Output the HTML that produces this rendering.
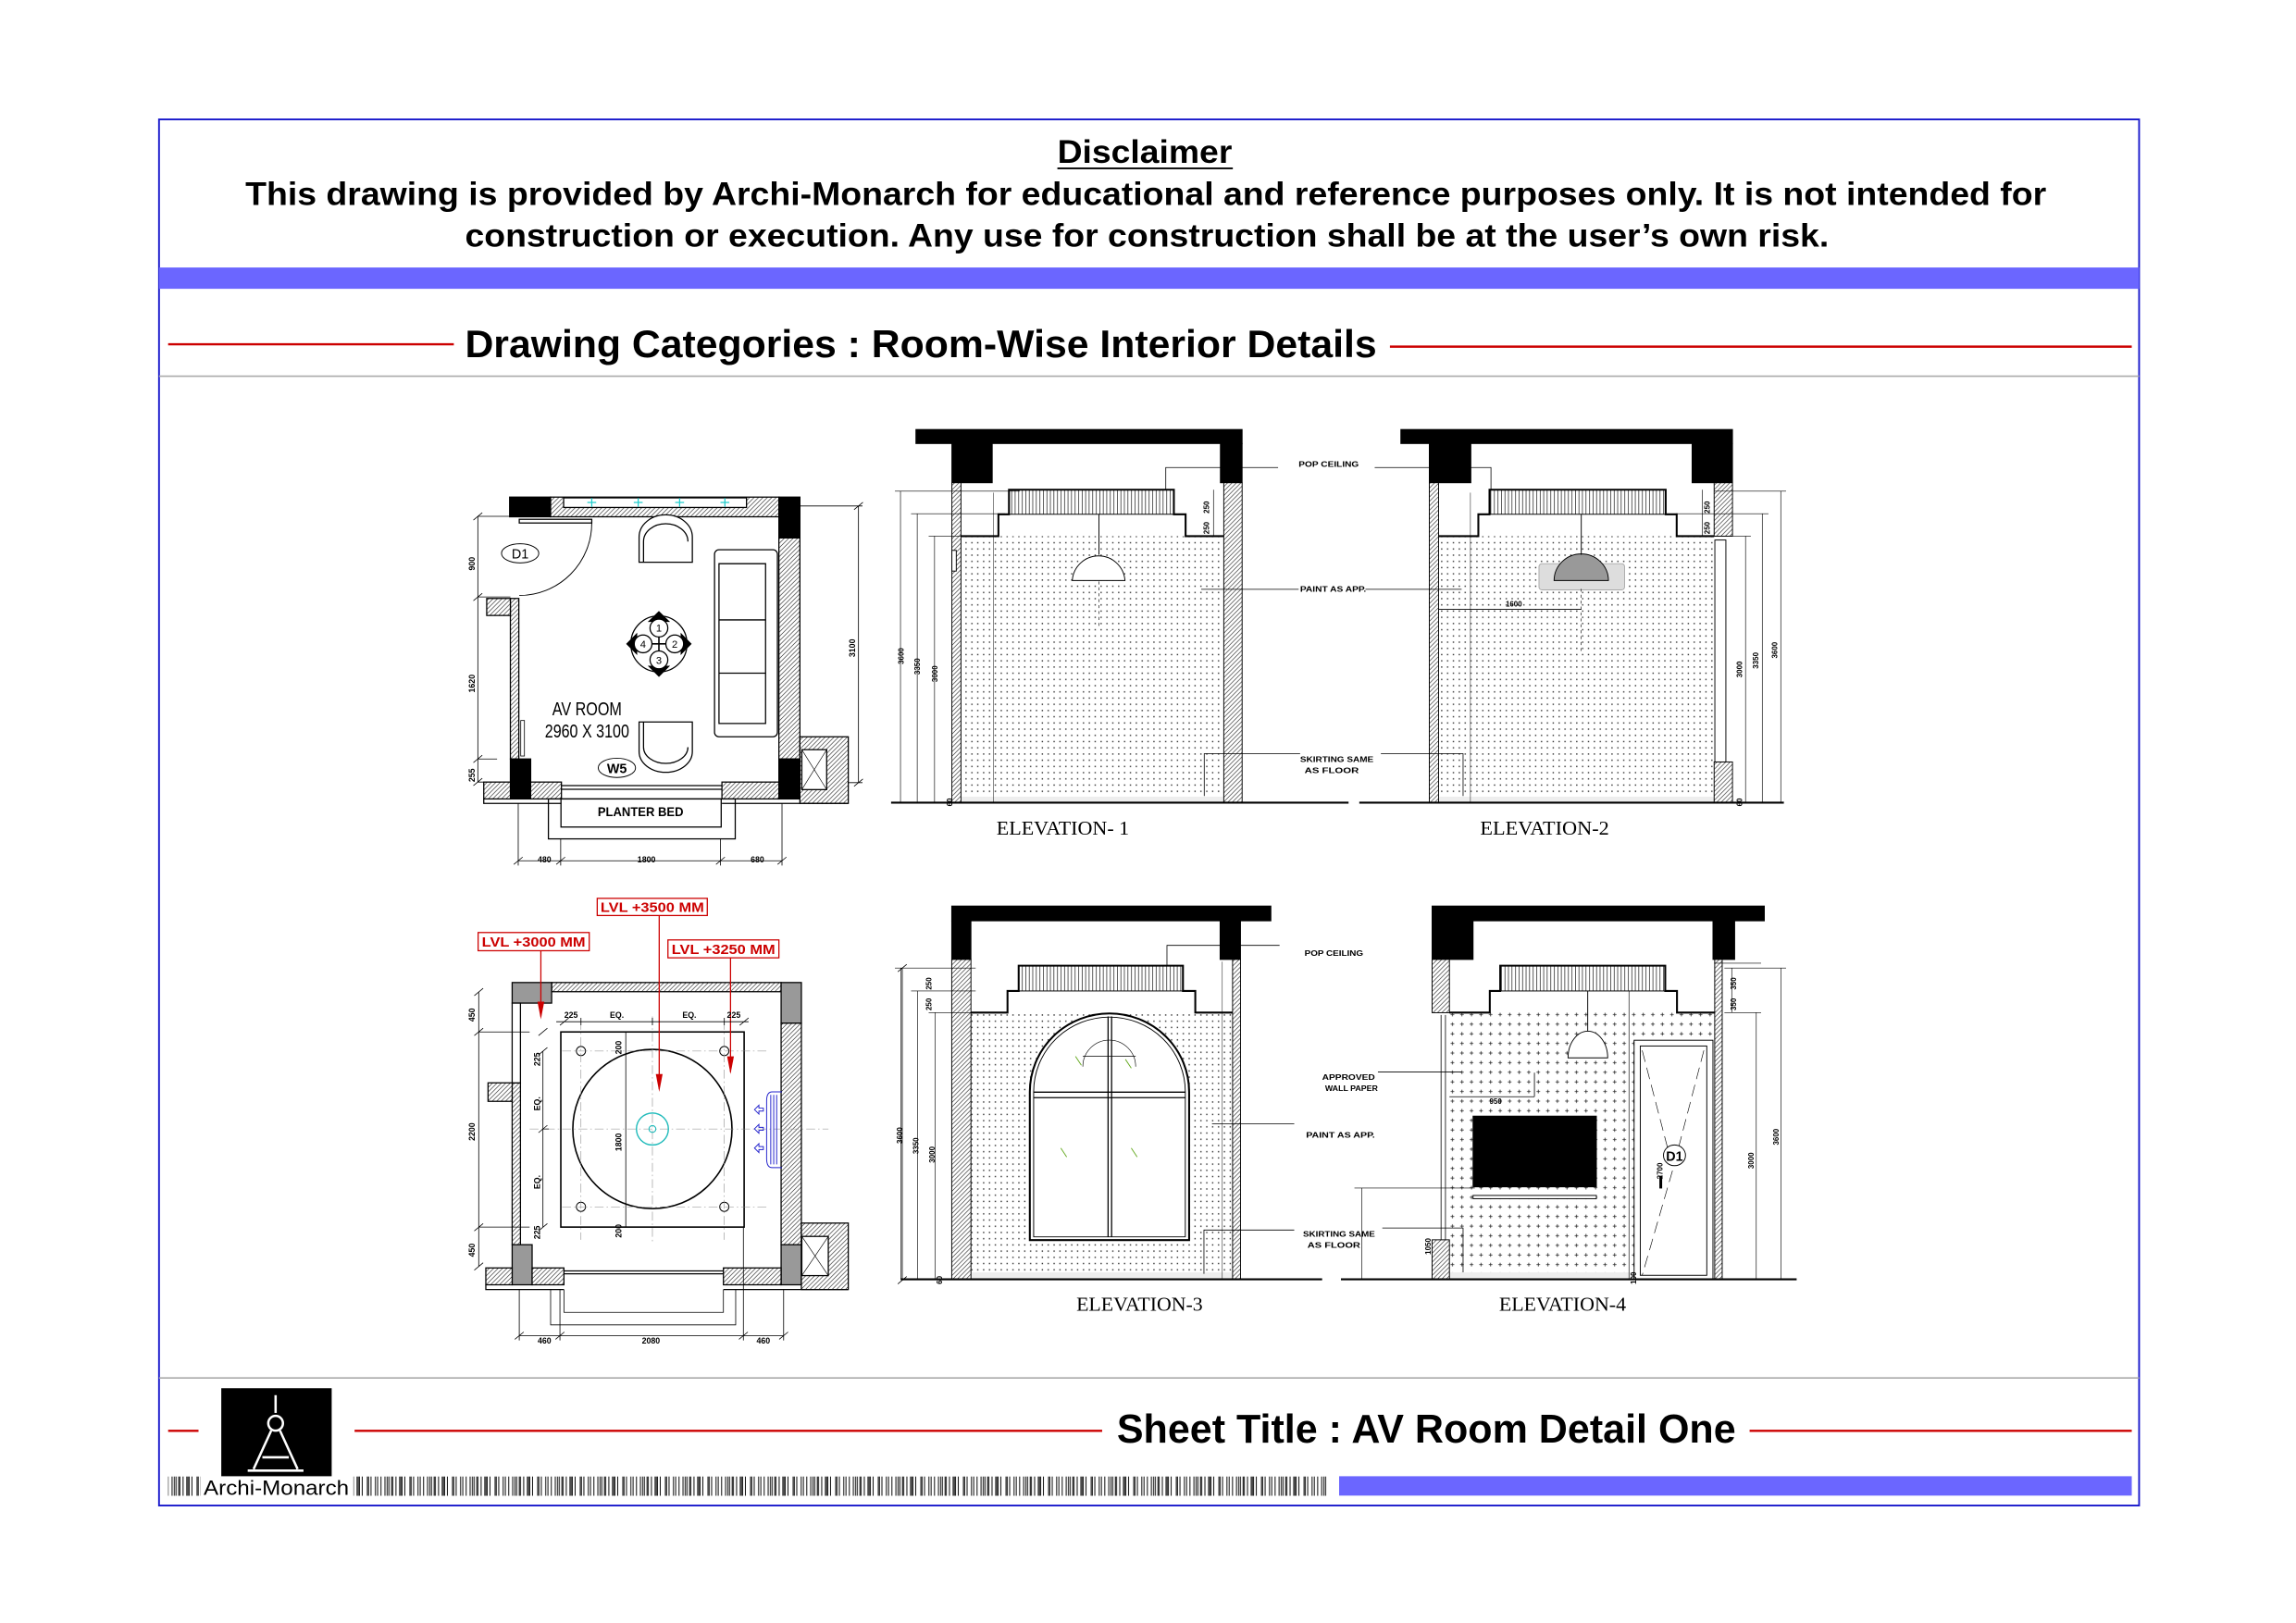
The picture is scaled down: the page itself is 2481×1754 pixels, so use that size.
<!DOCTYPE html>
<html><head><meta charset="utf-8"><style>
html,body{margin:0;padding:0;background:#fff;width:2481px;height:1754px;overflow:hidden}
svg{display:block}
text{font-family:"Liberation Sans",Arial,sans-serif}
.s{font-family:"Liberation Serif",serif}
</style></head><body>
<svg width="2481" height="1754" viewBox="0 0 1552 1097" preserveAspectRatio="none" xmlns="http://www.w3.org/2000/svg">
<defs>
<pattern id="h" width="3" height="3" patternUnits="userSpaceOnUse"><rect width="3" height="3" fill="#fff"/><path d="M-1,1 L1,-1 M0,3 L3,0 M2,4 L4,2" stroke="#000" stroke-width="0.35"/></pattern>
<pattern id="d" width="4" height="4.2" patternUnits="userSpaceOnUse"><rect width="4" height="4.2" fill="#fff"/><rect x="1" y="1" width="0.9" height="0.9" fill="#333"/></pattern>
<pattern id="c" width="6.5" height="6.5" patternUnits="userSpaceOnUse"><rect width="6.5" height="6.5" fill="#fff"/><path d="M3.25,2 V4.5 M2,3.25 H4.5" stroke="#222" stroke-width="0.5"/></pattern>
<pattern id="fl" width="2.4" height="20" patternUnits="userSpaceOnUse"><rect width="2.4" height="20" fill="#fff"/><path d="M0.5,0 V20" stroke="#000" stroke-width="0.4"/></pattern>
<pattern id="bc" width="29" height="20" patternUnits="userSpaceOnUse"><rect width="29" height="20" fill="#fff"/><path d="M0.5,0V20M2,0V20M3.2,0V20M5,0V20M5.8,0V20M8,0V20M10.5,0V20M11.3,0V20M12.1,0V20M14,0V20M17.5,0V20M18.3,0V20M20,0V20M23,0V20M24.5,0V20M26.8,0V20" stroke="#000" stroke-width="0.6"/></pattern>
</defs>

<g transform="matrix(0.9924 0 0 1 0.713 0)">
<!-- frame -->
<rect x="107.6" y="80.7" width="1348.7" height="936.9" fill="none" stroke="#1a1acc" stroke-width="1.2"/>
<rect x="107.6" y="180.8" width="1348.7" height="14.4" fill="#6b66ff"/>
<text x="779" y="110" font-size="22" font-weight="bold" text-anchor="middle" textLength="119" lengthAdjust="spacingAndGlyphs">Disclaimer</text>
<line x1="719.5" y1="113.8" x2="839" y2="113.8" stroke="#000" stroke-width="1.2"/>
<text x="166.4" y="138.5" font-size="22" font-weight="bold" textLength="1226.7" lengthAdjust="spacingAndGlyphs">This drawing is provided by Archi-Monarch for educational and reference purposes only. It is not intended for</text>
<text x="316" y="166.8" font-size="22" font-weight="bold" textLength="929" lengthAdjust="spacingAndGlyphs">construction or execution. Any use for construction shall be at the user’s own risk.</text>

<line x1="113.8" y1="232.7" x2="308.4" y2="232.7" stroke="#c00" stroke-width="1.5"/>
<line x1="946" y1="234.3" x2="1451.3" y2="234.3" stroke="#c00" stroke-width="1.5"/>
<text x="316" y="241.5" font-size="26" font-weight="bold" textLength="621" lengthAdjust="spacingAndGlyphs">Drawing Categories : Room-Wise Interior Details</text>
<line x1="107.6" y1="254.3" x2="1456.3" y2="254.3" stroke="#aaa" stroke-width="1"/>

<line x1="107.6" y1="931.4" x2="1456.3" y2="931.4" stroke="#aaa" stroke-width="1"/>
<rect x="150" y="938.3" width="75.2" height="59.5" fill="#000"/>
<g stroke="#fff" stroke-width="1.6" fill="none"><line x1="187" y1="943" x2="187" y2="955"/><circle cx="187" cy="962" r="5"/><path d="M184,967 L172,993 M190,967 L202,993 M178,985 H196 M168,994 H206"/></g>
<line x1="113.8" y1="967.1" x2="134.5" y2="967.1" stroke="#c00" stroke-width="1.5"/>
<line x1="240.8" y1="967.1" x2="750" y2="967.1" stroke="#c00" stroke-width="1.5"/>
<line x1="1191" y1="967.1" x2="1451.3" y2="967.1" stroke="#c00" stroke-width="1.5"/>
<text x="760" y="975.2" font-size="27" font-weight="bold" textLength="421.6" lengthAdjust="spacingAndGlyphs">Sheet Title : AV Room Detail One</text>
<rect x="113.8" y="998" width="22" height="13" fill="url(#bc)"/>
<rect x="240" y="998" width="663" height="13" fill="url(#bc)"/>
<text x="138" y="1010.5" font-size="14" textLength="99" lengthAdjust="spacingAndGlyphs">Archi-Monarch</text>
<rect x="911.4" y="997.8" width="539.9" height="13.1" fill="#6b66ff"/>
</g>

<!-- ========== FLOOR PLAN ========== -->
<g stroke="#000" stroke-width="0.8">
<rect x="372" y="336" width="154.5" height="13.3" fill="url(#h)"/>
<rect x="381" y="336.5" width="123.6" height="6.5" fill="#fff"/>
<rect x="344.5" y="336" width="27.7" height="13.3" fill="#000"/>
<rect x="526.5" y="336" width="14.2" height="27.6" fill="#000"/>
<rect x="526.5" y="363.6" width="14.2" height="149.4" fill="url(#h)"/>
<rect x="526.5" y="513" width="14.2" height="27" fill="#000"/>
<rect x="345" y="404.5" width="5.7" height="108.5" fill="url(#h)"/>
<rect x="329" y="404.5" width="16" height="11.5" fill="url(#h)"/>
<rect x="345" y="513" width="13.7" height="27" fill="#000"/>
<rect x="327" y="528.6" width="18" height="11.4" fill="url(#h)"/>
<rect x="358.7" y="528.6" width="20.8" height="11.4" fill="url(#h)"/>
<rect x="488" y="528.6" width="38.5" height="11.4" fill="url(#h)"/>
<rect x="540.7" y="498" width="32.7" height="45" fill="url(#h)"/>
<rect x="542" y="506.7" width="16.8" height="27" fill="#fff"/>
<path d="M542,506.7 L558.8,533.7 M558.8,506.7 L542,533.7" stroke-width="0.4"/>
<path d="M327,540 V543 H379.5 M488,543 H573.4" fill="none"/>
<path d="M379.5,531 H488 M379.5,533.5 H488" fill="none"/>
<rect x="370.7" y="540" width="126.3" height="27" fill="none"/>
<rect x="379.2" y="540" width="108.3" height="19" fill="none"/>
<rect x="352" y="487" width="2.5" height="24" fill="none" stroke-width="0.5"/>
<rect x="351" y="351" width="49" height="2.5" fill="#fff"/>
<path d="M400,353.5 A49,49 0 0 1 351,402.5" fill="none" stroke-width="0.6"/>
<path d="M432,380 V363 A18,15 0 0 1 468,363 V380 Z M435,380 V366 A15,12 0 0 1 465,366" fill="#fff"/>
<path d="M432,488 V508 A18,14 0 0 0 468,508 V488 Z M435,488 V505 A15,11 0 0 0 465,505" fill="#fff"/>
<rect x="483" y="371.6" width="42.5" height="126.4" rx="3" fill="#fff"/>
<path d="M486,381 H517.5 V489 H486 Z M486,419 H517.5 M486,455 H517.5" fill="none"/>
<circle cx="445.4" cy="435.2" r="19" fill="none"/>
<path d="M445.4,413.5 L452,420 H438.8 Z M467,435.2 L460.5,441.8 V428.6 Z M445.4,457 L438.8,450.4 H452 Z M423.8,435.2 L430.3,428.6 V441.8 Z" fill="#000"/>
<path d="M445.4,424.5 V446 M434.7,435.2 H456.1" fill="none" stroke-width="1"/>
<g fill="#fff"><circle cx="445.4" cy="424.5" r="6"/><circle cx="456.1" cy="435.2" r="6"/><circle cx="445.4" cy="446" r="6"/><circle cx="434.7" cy="435.2" r="6"/></g>
</g>
<g font-size="7" text-anchor="middle"><text x="445.4" y="427">1</text><text x="456.1" y="437.8">2</text><text x="445.4" y="448.6">3</text><text x="434.7" y="437.8">4</text></g>
<g stroke="#2cc" stroke-width="0.8"><path d="M397,339.6h6M400,336.6v6M428.4,339.6h6M431.4,336.6v6M456.4,339.6h6M459.4,336.6v6M487,339.6h6M490,336.6v6"/></g>
<ellipse cx="351.6" cy="374" rx="12.6" ry="6.5" fill="none" stroke="#000" stroke-width="0.6"/>
<text x="351.6" y="377.5" font-size="9" text-anchor="middle">D1</text>
<ellipse cx="417" cy="519" rx="12.6" ry="6.5" fill="none" stroke="#000" stroke-width="0.6"/>
<text x="417" y="522.5" font-size="9" font-weight="bold" text-anchor="middle">W5</text>
<text x="396.8" y="483.5" font-size="13" text-anchor="middle" textLength="47" lengthAdjust="spacingAndGlyphs">AV ROOM</text>
<text x="396.8" y="498.5" font-size="13" text-anchor="middle" textLength="57" lengthAdjust="spacingAndGlyphs">2960 X 3100</text>
<text x="433" y="551.5" font-size="8.5" font-weight="bold" text-anchor="middle" textLength="58" lengthAdjust="spacingAndGlyphs">PLANTER BED</text>
<g stroke="#000" stroke-width="0.5" fill="none">
<path d="M323,349 V528.6 M320,351.5l6,-5 M320,406l6,-5 M320,515.5l6,-5 M320,531l6,-5 M323,349H345 M323,403.5H345 M323,513H336 M323,528.6H327"/>
<path d="M580.3,342 V529 M540.7,342 H583 M577.3,344.5l6,-5 M577.3,531.5l6,-5 M573.4,529 H583"/>
<path d="M350.3,581.8 H528.6 M350.3,543 V585 M379,567 V585 M487,567 V585 M528.6,543 V585 M347.3,584.3l6,-5 M376,584.3l6,-5 M484,584.3l6,-5 M525.6,584.3l6,-5"/>
</g>
<g font-size="5.5" font-weight="bold" text-anchor="middle">
<text transform="translate(321,381) rotate(-90)">900</text>
<text transform="translate(321,462) rotate(-90)">1620</text>
<text transform="translate(321,524) rotate(-90)">255</text>
<text transform="translate(578,438) rotate(-90)">3100</text>
<text x="368" y="583">480</text><text x="437" y="583">1800</text><text x="512" y="583">680</text>
</g>

<!-- ========== CEILING PLAN ========== -->
<g stroke="#000" stroke-width="0.8">
<rect x="372.9" y="664.1" width="155.1" height="6.2" fill="url(#h)"/>
<rect x="346.2" y="664.1" width="26.7" height="13.9" fill="#999"/>
<rect x="528" y="664.1" width="13.7" height="27.5" fill="#999"/>
<rect x="528" y="691.6" width="13.7" height="149.7" fill="url(#h)"/>
<rect x="528" y="841.3" width="13.7" height="27.1" fill="#999"/>
<rect x="346.2" y="678" width="5.6" height="54" fill="#fff"/>
<rect x="346.2" y="732" width="5.6" height="109.3" fill="url(#h)"/>
<rect x="329.9" y="731.9" width="16.3" height="12.5" fill="url(#h)"/>
<rect x="346.2" y="841.3" width="13.5" height="27.1" fill="#999"/>
<rect x="328.4" y="857" width="17.8" height="11.4" fill="url(#h)"/>
<rect x="359.7" y="857" width="21.5" height="11.4" fill="url(#h)"/>
<rect x="489" y="857" width="39" height="11.4" fill="url(#h)"/>
<rect x="541.7" y="826.7" width="31.7" height="44.9" fill="url(#h)"/>
<rect x="542" y="835.7" width="17.9" height="26.5" fill="#fff"/>
<path d="M542,835.7 L559.9,862.2 M559.9,835.7 L542,862.2" stroke-width="0.4"/>
<path d="M328.4,868.4 V871.6 H381.2 M489,871.6 H573.4 M381.2,859 H489 M381.2,861 H489" fill="none"/>
<path d="M372.2,871.6 V895.5 H497.3 V871.6 M381.2,871.6 V887 H489 V871.6" fill="none" stroke-width="0.5"/>
<rect x="379.1" y="697.5" width="123.9" height="131.9" fill="none" stroke-width="1"/>
<circle cx="441" cy="763.1" r="53.8" fill="none" stroke-width="1"/>
<g fill="none" stroke-width="0.6"><circle cx="392.7" cy="710.4" r="3.1"/><circle cx="489.6" cy="710.4" r="3.1"/><circle cx="392.7" cy="815.7" r="3.1"/><circle cx="489.6" cy="815.7" r="3.1"/></g>
</g>
<g stroke="#888" stroke-width="0.35" stroke-dasharray="6,2,1,2" fill="none">
<path d="M358,763.1 H560 M441,687 V840 M380,710.4 H520 M380,815.7 H520 M392.7,690 V838 M489.6,690 V838"/>
</g>
<circle cx="441" cy="763.1" r="10.8" fill="none" stroke="#2bb" stroke-width="0.9"/>
<circle cx="441" cy="763.1" r="2.3" fill="none" stroke="#2bb" stroke-width="0.7"/>
<g stroke="#22c" stroke-width="0.6" fill="none"><path d="M528.6,738 H522 Q518.2,738 518.2,744 V783 Q518.2,789.2 522,789.2 H528.6 M521,740 V787 M523,740 V787 M525,740 V787"/>
<path d="M510,750 l3,-3 v2 h3 v2 h-3 v2 Z M510,763 l3,-3 v2 h3 v2 h-3 v2 Z M510,776 l3,-3 v2 h3 v2 h-3 v2 Z"/></g>
<g fill="none" stroke="#c00" stroke-width="0.8">
<rect x="403.7" y="607.2" width="74.4" height="11.6" fill="#fff"/>
<rect x="323.2" y="630.3" width="75.1" height="12.3" fill="#fff"/>
<rect x="451.5" y="635.3" width="75" height="12.1" fill="#fff"/>
<path d="M365.6,642.6 V687 M445.6,618.8 V736 M493.8,647.4 V724.6"/>
</g>
<g fill="#c00"><polygon points="363.3,677 367.9,677 365.6,689"/><polygon points="443.3,726 447.9,726 445.6,738"/><polygon points="491.5,714 496.1,714 493.8,726"/></g>
<g fill="#c00" font-size="9" font-weight="bold" text-anchor="middle">
<text x="440.9" y="616.3" textLength="70" lengthAdjust="spacingAndGlyphs">LVL +3500 MM</text>
<text x="360.7" y="639.8" textLength="70" lengthAdjust="spacingAndGlyphs">LVL +3000 MM</text>
<text x="489" y="644.7" textLength="70" lengthAdjust="spacingAndGlyphs">LVL +3250 MM</text>
</g>
<g stroke="#000" stroke-width="0.5" fill="none">
<path d="M323.6,670.3 V856 M320.6,673l6,-5 M320.6,700l6,-5 M320.6,832l6,-5 M320.6,858.5l6,-5 M323.6,697.5 H358 M323.6,829.4 H358"/>
<path d="M367,710.4 V829.4 M367,763.1 h4 M364,713l6,-5 M364,765.6l6,-5 M364,832l6,-5 M364,700l6,-5"/>
<path d="M376,690.6 H506 M378.5,693l6,-5 M392.7,693l0,-5 M441,693l0,-5 M489.6,693l0,-5 M500,693l6,-5"/>
<path d="M423,697.5 V829.4"/>
<path d="M351,902.8 H529.7 M351,871.6 V906 M378.5,871.6 V906 M502.5,829.4 V906 M529.7,871.6 V906 M348,905.3l6,-5 M375.5,905.3l6,-5 M499.5,905.3l6,-5 M526.7,905.3l6,-5"/>
<path d="M609.9,654.3 V865.3 M606.9,656.8l6,-5 M606.9,867.8l6,-5"/>
</g>
<g font-size="5.5" font-weight="bold" text-anchor="middle">
<text transform="translate(321,686) rotate(-90)">450</text>
<text transform="translate(321,765) rotate(-90)">2200</text>
<text transform="translate(321,845) rotate(-90)">450</text>
<text transform="translate(365,746) rotate(-90)">EQ.</text>
<text transform="translate(365,799) rotate(-90)">EQ.</text>
<text transform="translate(365,716) rotate(-90)">225</text>
<text transform="translate(365,833) rotate(-90)">225</text>
<text transform="translate(420,708) rotate(-90)">200</text>
<text transform="translate(420,772) rotate(-90)">1800</text>
<text transform="translate(420,832) rotate(-90)">200</text>
<text x="386" y="688">225</text><text x="417" y="688">EQ.</text><text x="466" y="688">EQ.</text><text x="496" y="688">225</text>
<text x="368" y="908">460</text><text x="440" y="908">2080</text><text x="516" y="908">460</text>
</g>

<g transform="matrix(0.9924 0 0 1 4.52 0)">
<!-- ========== ELEVATION 1 ========== -->
<g stroke="#000" stroke-width="0.6">
<rect x="650" y="362.4" width="179" height="180.1" fill="url(#d)" stroke="none"/>
<rect x="650" y="538.5" width="179" height="4" fill="#eee" stroke="none"/>
<rect x="619.3" y="290.3" width="222.2" height="9.5" fill="#000"/>
<rect x="643.8" y="299.8" width="27.5" height="26.5" fill="#000"/>
<rect x="826.7" y="299.8" width="14.8" height="26.5" fill="#000"/>
<rect x="643.8" y="326.3" width="6.2" height="216.2" fill="url(#h)"/>
<rect x="829" y="326.3" width="12.5" height="216.2" fill="url(#h)"/>
<rect x="682.7" y="331" width="112.3" height="16.6" fill="url(#fl)"/>
<path d="M650,362.4 H675.5 V347.6 H682.7 V331 H795 V347.6 H803 V362.4 H829" fill="none" stroke-width="1.3"/>
<path d="M725.8,392.4 A18,18 0 0 1 761.7,392.4 Z" fill="#fff"/>
<path d="M744,347.6 V375" fill="none"/>
<path d="M744,393 V425" fill="none" stroke-dasharray="2,2" stroke-width="0.4"/>
<path d="M672,333 V542" stroke-width="0.3"/>
<rect x="643.8" y="372" width="3" height="14" fill="#fff"/>
<path d="M602.4,542.5 H914" stroke-width="1.3"/>
<path d="M789.5,331 V316 H866 M813.6,398.3 H880 M815.7,538 V509.4 H881" fill="none" stroke-width="0.5"/>
<path d="M608.8,332 V542.5 M620.2,347.2 V542.5 M632,362.4 V542.5 M605,332 H690 M616,347.2 H680 M628,362.4 H650 M822,331 V362.4" fill="none" stroke-width="0.4"/>
</g>
<g font-size="5" font-weight="bold">
<text x="880" y="315.5" textLength="41" lengthAdjust="spacingAndGlyphs">POP CEILING</text>
<text x="881" y="400" textLength="45" lengthAdjust="spacingAndGlyphs">PAINT AS APP.</text>
<text x="881" y="515" textLength="50" lengthAdjust="spacingAndGlyphs">SKIRTING SAME</text>
<text x="884" y="522.5" textLength="37" lengthAdjust="spacingAndGlyphs">AS FLOOR</text>
<text transform="translate(819,347) rotate(-90)">250</text><text transform="translate(819,361) rotate(-90)">250</text>
<text transform="translate(644,545) rotate(-90)">60</text>
<text transform="translate(611,449) rotate(-90)">3600</text>
<text transform="translate(622,456) rotate(-90)">3350</text>
<text transform="translate(634,461) rotate(-90)">3000</text>
</g>
<text class="s" x="674.2" y="564" font-size="13" textLength="90.4" lengthAdjust="spacingAndGlyphs">ELEVATION- 1</text>

<!-- ========== ELEVATION 2 ========== -->
<g stroke="#000" stroke-width="0.6">
<rect x="975.3" y="362.4" width="187.7" height="180.1" fill="url(#d)" stroke="none"/>
<rect x="975.3" y="538.5" width="187.7" height="4" fill="#eee" stroke="none"/>
<rect x="949.6" y="290.3" width="225.9" height="9.5" fill="#000"/>
<rect x="969" y="299.8" width="28.3" height="26.5" fill="#000"/>
<rect x="1148" y="299.8" width="27.5" height="26.5" fill="#000"/>
<rect x="969" y="326.3" width="6.3" height="216.2" fill="url(#h)"/>
<rect x="1163" y="326.3" width="12.5" height="36.1" fill="url(#h)"/>
<rect x="1163" y="515" width="12.5" height="27.5" fill="url(#h)"/>
<rect x="1163.5" y="365" width="7.5" height="150" fill="#fff"/>
<rect x="1010" y="331" width="120" height="16.6" fill="url(#fl)"/>
<path d="M975.3,362.4 H1002.4 V347.6 H1010 V331 H1130 V347.6 H1137.5 V362.4 H1163" fill="none" stroke-width="1.3"/>
<rect x="1043.7" y="381" width="58.3" height="17.7" rx="2" fill="#ddd" stroke="#aaa"/>
<path d="M1054,392.4 A18.5,18 0 0 1 1091,392.4 Z" fill="#999"/>
<path d="M1072.5,347.6 V375" fill="none"/>
<path d="M1072.5,398 V440" fill="none" stroke-dasharray="2,2" stroke-width="0.4"/>
<path d="M975.3,411.8 H1072.5" stroke-width="0.5"/>
<path d="M997,333 V542" stroke-width="0.3"/>
<path d="M921.3,542.5 H1210.5" stroke-width="1.3"/>
<path d="M931.8,316 H1011 V331 M925.5,398.3 H991 M936,509.4 H992 V538" fill="none" stroke-width="0.5"/>
<path d="M1184.4,362.4 V542.5 M1195.8,347.2 V542.5 M1208.4,332 V542.5 M1163,332 H1212 M1137,347.2 H1200 M1163,362.4 H1188 M1155,331 V362.4" fill="none" stroke-width="0.4"/>
</g>
<g font-size="5" font-weight="bold">
<text x="1021" y="410" >1600</text>
<text transform="translate(1160,347) rotate(-90)">250</text><text transform="translate(1160,361) rotate(-90)">250</text>
<text transform="translate(1182,458) rotate(-90)">3000</text><text transform="translate(1193,452) rotate(-90)">3350</text><text transform="translate(1206,445) rotate(-90)">3600</text>
<text transform="translate(1182,545) rotate(-90)">60</text>
</g>
<text class="s" x="1003.6" y="564" font-size="13" textLength="87.9" lengthAdjust="spacingAndGlyphs">ELEVATION-2</text>

<!-- ========== ELEVATION 3 ========== -->
<g stroke="#000" stroke-width="0.6">
<rect x="656.8" y="684.4" width="178.2" height="180.3" fill="url(#d)" stroke="none"/>
<rect x="656.8" y="860" width="178.2" height="4.7" fill="#eee" stroke="none"/>
<rect x="643.7" y="612.4" width="217.4" height="10" fill="#000"/>
<rect x="643.7" y="622.4" width="13.1" height="26.1" fill="#000"/>
<rect x="826.5" y="622.4" width="13.9" height="26.1" fill="#000"/>
<rect x="643.7" y="648.5" width="13.1" height="216.2" fill="url(#h)"/>
<rect x="835" y="648.5" width="5.4" height="216.2" fill="url(#h)"/>
<rect x="689.3" y="652.7" width="111.9" height="17.1" fill="url(#fl)"/>
<path d="M656.8,684.4 H681.7 V669.8 H689.3 V652.7 H801.2 V669.8 H809.6 V684.4 H835" fill="none" stroke-width="1.3"/>
<path d="M696.9,838.2 V738 A54.25,53 0 0 1 805.4,738 V838.2 Z" fill="#fff" stroke-width="1.3"/>
<path d="M699.5,836 V738 A51.6,50.5 0 0 1 802.8,738 V836 Z" fill="none" stroke-width="0.6"/>
<path d="M699.5,738.2 H802.8 M699.5,741.9 H802.8 M750.2,687 V836 M752.6,687 V836" fill="none" stroke-width="0.8"/>
<path d="M733,721 A18,18 0 0 1 769,721 M733,714 H769" fill="none" stroke-width="0.4"/>
<g stroke="#6a2" stroke-width="0.6"><path d="M728,714 l4,6 M762,716 l4,6 M718,776 l4,6 M766,776 l4,6"/></g>
<path d="M828,650 V864" stroke-width="0.3"/>
<path d="M609,864.7 H896" stroke-width="1.3"/>
<path d="M790.3,653 V639 H867 M821,759.6 H877 M815.5,861 V831.4 H877" fill="none" stroke-width="0.5"/>
<path d="M609,654.3 V864.7 M620.5,669.8 V864.7 M632.3,684.4 V864.7 M605,654.3 H660 M616,669.8 H660 M628,684.4 H660" fill="none" stroke-width="0.4"/>
</g>
<g font-size="5" font-weight="bold">
<text x="884" y="646" textLength="40" lengthAdjust="spacingAndGlyphs">POP CEILING</text>
<text x="885" y="769" textLength="47" lengthAdjust="spacingAndGlyphs">PAINT AS APP.</text>
<text x="883" y="836" textLength="49" lengthAdjust="spacingAndGlyphs">SKIRTING SAME</text>
<text x="886" y="843.5" textLength="36" lengthAdjust="spacingAndGlyphs">AS FLOOR</text>
<text transform="translate(610,773) rotate(-90)">3600</text><text transform="translate(621,780) rotate(-90)">3350</text><text transform="translate(632,786) rotate(-90)">3000</text>
<text transform="translate(630,669) rotate(-90)">250</text><text transform="translate(630,683) rotate(-90)">250</text>
<text transform="translate(637,868) rotate(-90)">60</text>
</g>
<text class="s" x="728.6" y="886" font-size="13" textLength="86.1" lengthAdjust="spacingAndGlyphs">ELEVATION-3</text>

<!-- ========== ELEVATION 4 ========== -->
<g stroke="#000" stroke-width="0.6">
<rect x="982.7" y="684.4" width="180.7" height="180.3" fill="url(#c)" stroke="none"/>
<rect x="982.7" y="860" width="125" height="4.7" fill="#eee" stroke="none"/>
<rect x="970.9" y="612.4" width="226.3" height="10" fill="#000"/>
<rect x="970.9" y="622.4" width="27.9" height="26.1" fill="#000"/>
<rect x="1162.2" y="622.4" width="14.8" height="26.1" fill="#000"/>
<rect x="970.9" y="648.5" width="11.8" height="36" fill="url(#h)"/>
<rect x="970.9" y="838" width="11.8" height="26.7" fill="url(#h)"/>
<rect x="1163.4" y="648.5" width="5.1" height="216.2" fill="url(#h)"/>
<rect x="1017.3" y="652.7" width="112.4" height="17.1" fill="url(#fl)"/>
<path d="M982.7,684.4 H1010.2 V669.8 H1017.3 V652.7 H1129.7 V669.8 H1137.7 V684.4 H1163.4" fill="none" stroke-width="1.3"/>
<path d="M1063.5,715 A13.5,18 0 0 1 1090.5,715 Z" fill="#fff"/>
<path d="M1076.9,670 V697" fill="none"/>
<rect x="998.8" y="754.4" width="84" height="47.8" fill="#000"/>
<rect x="998.8" y="808" width="84" height="2.2" fill="#fff"/>
<rect x="1108.5" y="703.1" width="53.7" height="161.6" fill="#fff"/>
<rect x="1112.7" y="707" width="45.3" height="155" fill="none"/>
<path d="M1114,710 L1135,790 L1114,862 M1156,710 L1135,790" fill="none" stroke-width="0.4" stroke-dasharray="8,4"/>
<rect x="1126" y="795" width="1.3" height="8" fill="#000"/>
<ellipse cx="1136" cy="780.9" rx="7.5" ry="7" fill="#fff"/>
<path d="M982.7,741.3 H1040.6 M1040.6,725 V741.3" fill="none" stroke-width="0.5"/>
<path d="M977,686 V838 M980,686 V838" fill="none" stroke-width="0.5"/>
<path d="M908.8,864.7 H1219.2" stroke-width="1.3"/>
<path d="M934,724.6 H991 M937,830 H992 V860" fill="none" stroke-width="0.5"/>
<path d="M1191.7,684.4 V864.7 M1208.6,654.3 V864.7 M1170,654.3 H1212 M1170,684.4 H1195 M1175,654.3 V684.4 M1105,670 V864.7 M923,803 V864.7 M918,803 H1000" fill="none" stroke-width="0.4"/>
</g>
<text x="1136" y="784.5" font-size="9" font-weight="bold" text-anchor="middle">D1</text>
<g font-size="5" font-weight="bold">
<text x="896" y="730" textLength="36" lengthAdjust="spacingAndGlyphs">APPROVED</text>
<text x="898" y="737.5" textLength="36" lengthAdjust="spacingAndGlyphs">WALL PAPER</text>
<text x="1010" y="746">950</text>
<text transform="translate(1128,797) rotate(-90)">2700</text>
<text transform="translate(1190,790) rotate(-90)">3000</text><text transform="translate(1207,774) rotate(-90)">3600</text>
<text transform="translate(1178,669) rotate(-90)">350</text><text transform="translate(1178,683) rotate(-90)">350</text>
<text transform="translate(970,848) rotate(-90)">1050</text>
<text transform="translate(1110,868) rotate(-90)">100</text>
</g>
<text class="s" x="1016.5" y="886" font-size="13" textLength="86.5" lengthAdjust="spacingAndGlyphs">ELEVATION-4</text>
<line x1="1163" y1="651" x2="1195" y2="651" stroke="#000" stroke-width="0.4"/>
</g>
</svg>
</body></html>
